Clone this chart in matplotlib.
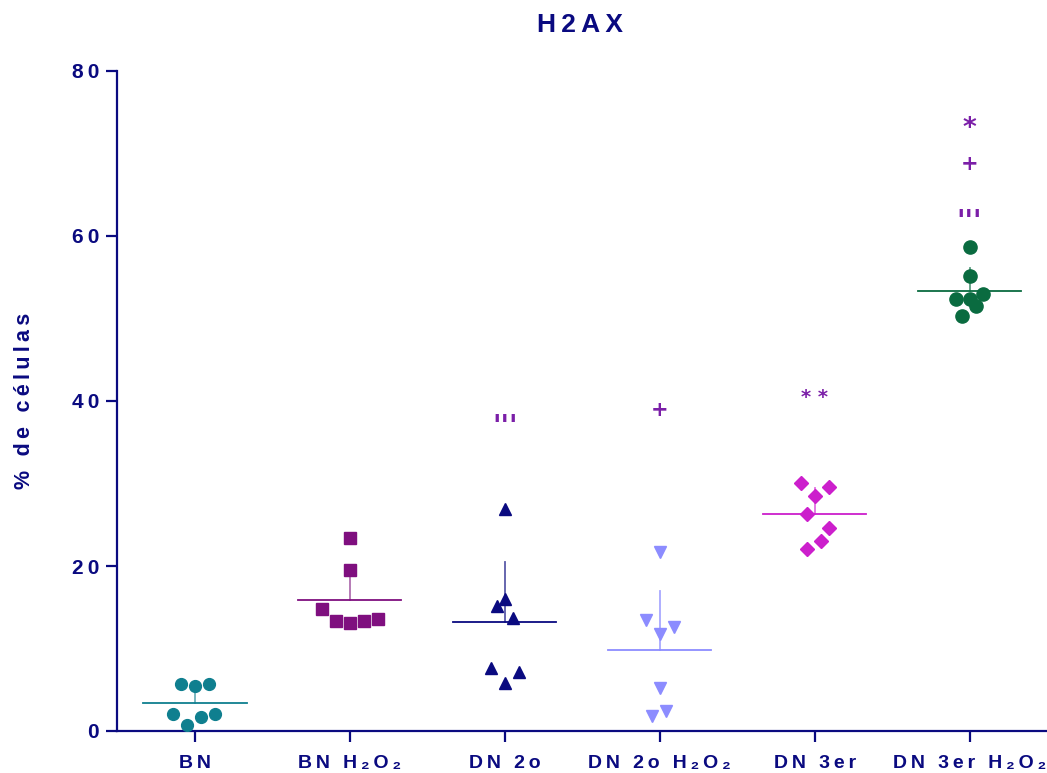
import matplotlib
matplotlib.use("Agg")
import matplotlib.pyplot as plt
import numpy as np

plt.rcParams['font.family'] = ['Liberation Sans', 'DejaVu Sans']

# ---- data ----
categories = ["BN", "BN H₂O₂", "DN 2o", "DN 2o H₂O₂", "DN 3er", "DN 3er H₂O₂"]
bn = [5.66, 5.45, 5.70, 2.02, 0.73, 1.70, 2.10]
bn_h2o2 = [23.43, 19.52, 14.75, 13.37, 13.05, 13.37, 13.54]
dn2 = [26.9, 15.15, 15.96, 13.66, 7.68, 5.86, 7.11]
dn2_h2o2 = [21.66, 13.45, 11.76, 12.57, 5.17, 1.82, 2.42]
dn3 = [30.02, 29.62, 28.48, 26.26, 24.65, 22.99, 22.06]
dn3_h2o2 = [58.67, 55.19, 52.36, 52.32, 53.01, 51.52, 50.34]
# horizontal jitter offsets (category units) as drawn in the original
bn_dx = [-0.09, 0.0, 0.09, -0.14, -0.05, 0.04, 0.13]
bn_h2o2_dx = [0.0, 0.0, -0.18, -0.09, 0.0, 0.09, 0.18]
dn2_dx = [0.0, -0.05, 0.0, 0.05, -0.09, 0.0, 0.09]
dn2_h2o2_dx = [0.0, -0.09, 0.0, 0.09, 0.0, -0.05, 0.04]
dn3_dx = [-0.09, 0.09, 0.0, -0.05, 0.09, 0.04, -0.05]
dn3_h2o2_dx = [0.0, 0.0, -0.09, 0.0, 0.09, 0.04, -0.05]

annotations = [(2, 37.9, "'''"), (3, 38.9, "+"), (4, 41.1, "* *"),
               (5, 73.7, "*"), (5, 68.7, "+"), (5, 62.8, "'''")]

series = [bn, bn_h2o2, dn2, dn2_h2o2, dn3, dn3_h2o2]
offsets = [bn_dx, bn_h2o2_dx, dn2_dx, dn2_h2o2_dx, dn3_dx, dn3_h2o2_dx]
colors = ['#0F7F8F', '#7F0F7F', '#0A0A80', '#8C8CFF', '#CC1FCC', '#0A6B40']
bar_colors = ['#6FB0BA', '#B070B0', '#5A5AA8', '#A8A8FF', '#E070E0', '#5A9C80']
markers = ['o', 's', '^', 'v', 'D', 'o']
msizes = [8.5, 8, 8.5, 8.5, 7, 9.5]

navy = '#0A0A80'
purple = '#7B1FA8'

def spaced(s, sep='\u2009'):
    return sep.join(list(s))

fig = plt.figure(figsize=(10.47, 7.73), dpi=100)
ax = fig.add_axes([117/1047, 42/773, 930/1047, 660/773])

for i, (vals, dx) in enumerate(zip(series, offsets)):
    vals = np.array(vals)
    m = vals.mean()
    sd = vals.std(ddof=1)
    ax.plot([i, i], [m, m + sd], color=bar_colors[i], lw=1.3, zorder=2)
    ax.plot([i - 0.333, i + 0.333], [m, m], color=colors[i], lw=1.3, zorder=2)
    ax.plot(np.array(dx) + i, vals, linestyle='none', marker=markers[i],
            ms=msizes[i], color=colors[i], mec=colors[i], zorder=3)

# text style per annotation symbol: (font family, size, weight, vertical offset in points)
ann_style = {"'''": ('DejaVu Sans', 20, 'bold', -6.5),
             "+": ('DejaVu Sans', 15, 'bold', 0.0),
             "* *": ('DejaVu Sans', 14, 'bold', -4.3),
             "*": ('DejaVu Sans', 19, 'bold', -4.3)}
for x, y, t in annotations:
    fam, fs, fw, dy = ann_style[t]
    ax.annotate(t, (x, y), xytext=(0, dy), textcoords='offset points',
                ha='center', va='center', color=purple, fontsize=fs,
                fontweight=fw, family=fam)

ax.set_xlim(-0.503, 5.5)
ax.set_ylim(0, 80)
ax.set_yticks([0, 20, 40, 60, 80])
ax.set_yticklabels([spaced(str(v)) for v in [0, 20, 40, 60, 80]])
ax.set_xticks(range(len(categories)))
ax.set_xticklabels([spaced(c) for c in categories])

for s in ['top', 'right']:
    ax.spines[s].set_visible(False)
for s in ['left', 'bottom']:
    ax.spines[s].set_color(navy)
    ax.spines[s].set_linewidth(1.6)

ax.tick_params(axis='both', colors=navy, width=1.6, length=8, direction='out',
               labelcolor=navy)
ax.tick_params(axis='x', pad=9, labelsize=14)
ax.tick_params(axis='y', pad=5, labelsize=15)
for lab in ax.get_xticklabels() + ax.get_yticklabels():
    lab.set_fontweight('bold')

ax.set_ylabel(spaced("% de células", '\u2009'), color=navy, fontsize=15.5,
              fontweight='bold', labelpad=26)
fig.text(580/1047, 1 - 25/773, spaced("H2AX", '\u2009'), ha='center', va='center',
         color=navy, fontsize=19, fontweight='bold')

fig.savefig("out.png", dpi=100)
